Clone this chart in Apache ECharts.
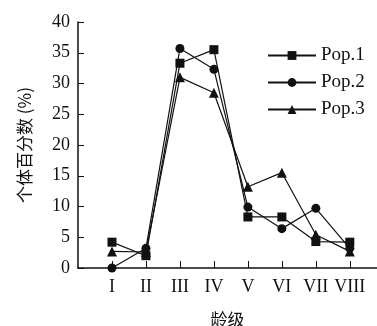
<!DOCTYPE html>
<html>
<head>
<meta charset="utf-8">
<script src="https://cdn.jsdelivr.net/npm/echarts@6/dist/echarts.min.js"></script>
<style>
  html, body { margin: 0; padding: 0; background: #fff; }
  #chart { width: 377px; height: 326px; }
</style>
</head>
<body>
<div id="chart"></div>
<script>
// 龄级 categories (x positions 1..8)
const ageClasses = ['I', 'II', 'III', 'IV', 'V', 'VI', 'VII', 'VIII']
const pop1 = [4.2, 2.0, 33.3, 35.5, 8.3, 8.3, 4.3, 4.2]
const pop2 = [0, 3.2, 35.7, 32.3, 9.9, 6.4, 9.7, 3.2]
const pop3 = [2.7, 2.6, 31.0, 28.5, 13.2, 15.5, 5.4, 2.7]
const yTicks = [0, 5, 10, 15, 20, 25, 30, 35, 40]

const serif = '"Liberation Serif", "Times New Roman", serif'
const cjk = '"Noto Sans CJK SC", sans-serif'

const chart = echarts.init(document.getElementById('chart'))

const toPoints = arr => arr.map((v, i) => [i + 1, v])

const makeSeries = (name, data, symbol) => ({
  name: name,
  type: 'line',
  data: toPoints(data),
  symbol: symbol,
  symbolSize: symbol === 'triangle' ? 10 : 9,
  lineStyle: { color: '#111', width: 1.2 },
  itemStyle: { color: '#111' },
  animation: false,
})

const option = {
  animation: false,
  grid: { left: 78, right: 0, top: 22, bottom: 58, outerBoundsMode: 'none' },
  legend: {
    orient: 'vertical',
    left: 262,
    top: 41,
    itemWidth: 48,
    itemHeight: 11,
    itemGap: 8,
    textStyle: { fontFamily: serif, fontSize: 19, color: '#111' },
    data: ['Pop.1', 'Pop.2', 'Pop.3'],
  },
  xAxis: {
    type: 'value',
    min: 0,
    max: 8.8,
    interval: 1,
    name: '龄级',
    nameLocation: 'middle',
    nameGap: 43,
    nameTextStyle: { fontFamily: cjk, fontSize: 17, color: '#111' },
    splitLine: { show: false },
    axisLine: { lineStyle: { color: '#111', width: 1.5 } },
    axisTick: { inside: true, length: 7, lineStyle: { color: '#111' } },
    axisLabel: {
      fontFamily: serif,
      fontSize: 18,
      color: '#111',
      margin: 10,
      showMinLabel: false,
      formatter: v => (v >= 1 && v <= 8 ? ageClasses[v - 1] : ''),
    },
  },
  yAxis: {
    type: 'value',
    min: yTicks[0],
    max: yTicks[yTicks.length - 1],
    interval: 5,
    name: '个体百分数 (%)',
    nameLocation: 'middle',
    nameGap: 45,
    nameRotate: 90,
    nameTextStyle: { fontFamily: cjk, fontSize: 17, color: '#111' },
    splitLine: { show: false },
    axisLine: { show: true, lineStyle: { color: '#111', width: 1.5 } },
    axisTick: { show: true, inside: true, length: 6, lineStyle: { color: '#111' } },
    axisLabel: { fontFamily: serif, fontSize: 18, color: '#111', margin: 8 },
  },
  series: [
    makeSeries('Pop.1', pop1, 'rect'),
    makeSeries('Pop.2', pop2, 'circle'),
    makeSeries('Pop.3', pop3, 'triangle'),
  ],
}

chart.setOption(option)
</script>
</body>
</html>
